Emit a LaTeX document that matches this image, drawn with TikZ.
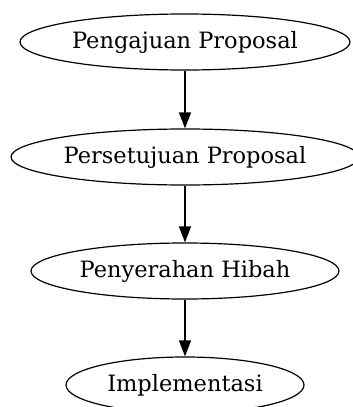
\documentclass[tikz,border=0pt]{standalone}
\usepackage{fontspec}
\setmainfont{DejaVu Serif}
\usetikzlibrary{arrows.meta,positioning,shapes.geometric}
\tikzset{stage/.style={ellipse,draw=black,line width=1.2pt,inner sep=0pt,minimum height=56pt,font=\fontsize{22.5}{26}\selectfont}}
\tikzset{flow/.style={-{Triangle[length=16pt,width=12pt]},line width=1.2pt}}

\begin{document}
\begin{tikzpicture}[x=1pt,y=-1pt]
\useasboundingbox (0,0) rectangle (353,407);
% \draw[help lines] (0,0) grid (353,407);
\node (p1) [stage,minimum width=330pt] at (185,42) {Pengajuan Proposal};
\node (p2) [stage,minimum width=348pt] at (185,157) {Persetujuan Proposal};
\node (p3) [stage,minimum width=308pt] at (185,271) {Penyerahan Hibah};
\node (p4) [stage,minimum width=238pt] at (185,385) {Implementasi};
%
\path[flow] (p1) edge (p2);
\path[flow] (p2) edge (p3);
\path[flow] (p3) edge (p4);
\end{tikzpicture}
\end{document}
